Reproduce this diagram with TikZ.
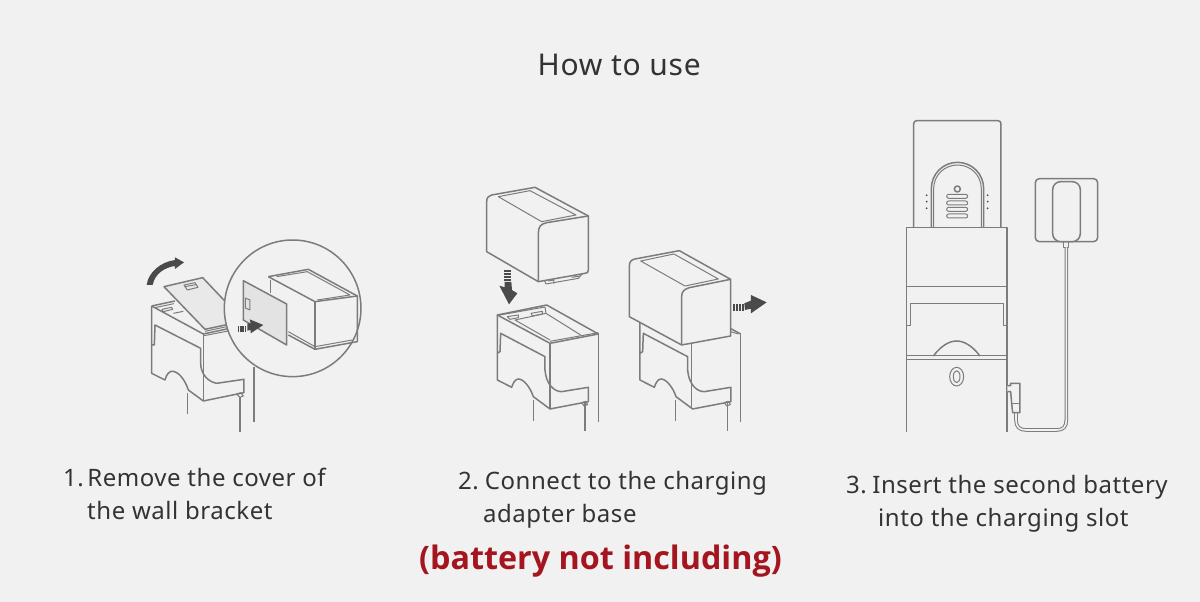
\documentclass[tikz,border=0pt]{standalone}
\usepackage{fontspec}
\setmainfont{Noto Sans}
\newfontfamily\notefont{Open Sans}[Scale=1]
\definecolor{bg}{HTML}{F0F1F0}
\definecolor{ln}{HTML}{7C7C7C}
\definecolor{dk}{HTML}{4A4A4A}
\definecolor{tx}{HTML}{333333}
\definecolor{rd}{HTML}{A5151F}
\definecolor{pl}{HTML}{E2E3E2}
\tikzset{
 lbl/.style={anchor=base west,inner sep=0pt,text=tx,font=\fontsize{24}{24}\selectfont\addfontfeatures{LetterSpace=2.2}},
 ol/.style={draw=ln,line width=1.5pt,line join=round,fill=none},
 thin ol/.style={draw=ln,line width=1pt,line join=round},
 solid bg/.style={ol,fill=bg},
 arr/.style={fill=dk,draw=none},
 cable/.style={draw=#1,line width=1pt,double=bg,double distance=1.6pt},
 cable/.default=ln
}
\newcommand{\bracketbody}{%
  (82,405) -- (82,520) -- (90,515) -- (92,460) -- (225,530) -- (225,570)
  .. controls (228,610) and (250,635) .. (275,635) -- (355,622) -- (355,665) -- (240,687) -- (190,650)
  .. controls (180,620) and (160,597) .. (145,597) .. controls (135,597) and (128,612) .. (125,622) -- (82,600) -- (82,520)}
\begin{document}
\begin{tikzpicture}[x=1pt,y=-1pt]
\path[use as bounding box,fill=bg] (0,0) rectangle (1200,602);

% ---------- step 1 ----------
\begin{scope}[shift={(120,230)},scale=0.3333]
 \draw[ol] (203,490) -- (203,552);
 \draw[ol] (360,500) -- (360,605);
 \draw[ol] (402,410) -- (402,575);
 \draw[solid bg] (95,228) -- (95,430) -- (135,450)
   .. controls (140,430) and (150,422) .. (160,424) .. controls (180,428) and (197,455) .. (205,480)
   -- (250,513) -- (372,488) -- (372,448) -- (290,460)
   .. controls (262,455) and (242,430) .. (242,400) -- (242,355) -- (105,285) -- (103,345) -- (95,345);
 \draw[ol] (250,312) -- (250,513);
 \draw[ol] (95,228) -- (250,312) -- (325,296);
 \draw[thin ol] (252,317) -- (325,303);
 \draw[ol] (95,228) -- (165,213);
 \draw[thin ol] (105,233) -- (162,221);
 \draw[thin ol] (126,238) -- (155,232) -- (158,238) -- (129,245) -- cycle;
 \draw[thin ol] (160,250) -- (190,244);
 \draw[thin ol] (350,492) -- (362,488) -- (370,498) -- (360,502) -- cycle;
 \draw[ol,fill=pl!60!bg] (132,170) -- (248,143) -- (340,240) -- (325,283) -- (255,298) -- cycle;
 \draw[thin ol] (255,304) -- (320,290);
 \draw[thin ol] (192,165) -- (225,158) -- (234,172) -- (202,180) -- cycle;
 \draw[thin ol] (194,170) -- (228,164);
 \draw[arr] (80,165) .. controls (85,125) and (125,95) .. (165,90) -- (165,82) -- (192,97) -- (165,117) -- (165,108) .. controls (135,112) and (105,130) .. (98,165) -- cycle;
 \draw[solid bg] (518,235) circle (205);
 % battery in lens
 \draw[ol] (445,140) -- (565,118) -- (712,198) -- (712,335) -- (585,358) -- (505,315);
 \draw[ol] (445,140) -- (585,215) -- (712,198);
 \draw[thin ol] (470,140) -- (562,125) -- (690,195) -- (592,210);
 \draw[ol] (452,150) -- (452,190);
 \draw[ol] (585,215) -- (585,358);
 \draw[thin ol] (585,350) -- (697,330);
 \draw[thin ol] (505,305) -- (585,350);
 % cover
 \draw[ol,fill=pl] (370,152) -- (500,222) -- (500,345) -- (370,270) -- cycle;
 \draw[thin ol] (376,204) -- (390,210) -- (390,240) -- (376,234) -- cycle;
 % arrow
 \foreach \a in {353,360,367,374}
   \fill[dk] (\a,287) rectangle (\a+5,305);
 \draw[arr] (382,280) -- (392,280) -- (389,268) -- (430,285) -- (392,310) -- (392,300) -- (382,302) -- cycle;
\end{scope}

% ---------- step 2 ----------
\begin{scope}[shift={(470,180)},scale=0.3333]
 % left column
 \draw[ol] (190,660) -- (190,722);
 \draw[ol] (345,670) -- (345,752);
 \draw[ol] (385,462) -- (385,725);
 \draw[solid bg] \bracketbody;
 \draw[ol] (240,490) -- (240,687);
 \draw[ol] (82,405) -- (230,375) -- (385,462) -- (240,490) -- cycle;
 \draw[thin ol] (240,484) -- (385,458);
 \draw[thin ol] (90,405) -- (225,381) -- (228,400) -- (135,420) -- (240,480);
 \draw[thin ol] (228,400) -- (332,465);
 \draw[thin ol] (112,410) -- (145,405) -- (145,413) -- (120,418) -- cycle;
 \draw[thin ol] (183,400) -- (217,394) -- (217,402) -- (187,408) -- cycle;
 \draw[thin ol] (335,668) -- (347,664) -- (353,674) -- (342,678) -- cycle;
 % battery A
 \draw[thin ol] (222,298) -- (228,312) -- (325,295) -- (338,280);
 \draw[thin ol] (235,303) -- (252,300) -- (252,311);
 \draw[thin ol] (305,292) -- (330,288);
 \draw[solid bg] (50,215) -- (50,65) .. controls (50,52) and (55,50) .. (65,45) -- (195,22) -- (355,108) -- (355,270) .. controls (355,278) and (352,279) .. (345,280) -- (205,305) -- cycle;
 \draw[ol] (205,305) -- (205,160) .. controls (205,140) and (212,132) .. (230,128) -- (355,108);
 \draw[thin ol] (85,50) -- (180,32) -- (318,105) -- (215,125) -- cycle;
 % arrow down
 \foreach \a in {270,279,288,297}
   \fill[dk] (102,\a) rectangle (124,\a+6);
 \draw[arr] (88,317) -- (104,322) -- (104,306) -- (124,306) -- (126,330) -- (142,340) -- (117,373) -- cycle;
 % right column
 \draw[ol] (617,660) -- (617,722);
 \draw[ol] (772,670) -- (772,752);
 \draw[ol] (812,462) -- (812,725);
 \begin{scope}[shift={(428,0)}]
  \draw[solid bg] \bracketbody;
  \draw[thin ol] (335,668) -- (347,664) -- (353,674) -- (342,678) -- cycle;
 \end{scope}
 \draw[ol] (665,490) -- (665,687);
 \draw[ol] (775,442) -- (812,462);
 \draw[thin ol] (782,455) -- (805,462);
 % battery B
 \draw[solid bg] (478,410) -- (478,260) .. controls (478,245) and (483,240) .. (495,237) -- (628,212) -- (782,298) -- (782,468) -- (635,495) -- cycle;
 \draw[ol] (635,495) -- (635,350) .. controls (635,335) and (642,328) .. (658,323) -- (782,298);
 \draw[thin ol] (512,243) -- (612,222) -- (745,297) -- (645,318) -- cycle;
 % arrow right
 \foreach \a in {790,799,808,817}
   \fill[dk] (\a,372) rectangle (\a+6,393);
 \draw[arr] (823,370) -- (843,362) -- (843,345) -- (890,367) -- (843,400) -- (843,386) -- (825,390) -- cycle;
\end{scope}

% ---------- step 3 upper ----------
\begin{scope}[shift={(890,110)},scale=0.3333]
 \draw[ol,rounded corners=3pt] (71,352) -- (71,32) -- (333,32) -- (333,352);
 \draw[ol] (124,352) -- (124,236) .. controls (124,192) and (159,157) .. (202.5,157) .. controls (246,157) and (281,192) .. (281,236) -- (281,352);
 \draw[thin ol] (131,352) -- (131,236) .. controls (131,196) and (163,165) .. (202.5,165) .. controls (242,165) and (274,196) .. (274,236) -- (274,352);
 \draw[ol] (202,237) circle (9);
 \foreach \a in {259,279,298,318}
   \draw[thin ol,rounded corners=2pt] (170,\a-6) rectangle (233,\a+6);
 \foreach \a in {256,275,295} {
   \fill[dk] (110,\a) circle (3);
   \fill[dk] (293,\a) circle (3);
 }
 \draw[ol] (50,520) -- (50,352) -- (351,352) -- (351,520);
 % adapter
 \draw[ol,rounded corners=4pt] (436,206) rectangle (623,395);
 \draw[ol,fill=bg,rounded corners=8pt] (488,215) rectangle (571,395);
 \draw[thin ol] (521,395) rectangle (537,412);
\end{scope}

% ---------- step 3 lower ----------
\begin{scope}[shift={(890,270)},scale=0.3333]
 \draw[ol] (50,0) -- (50,485);
 \draw[ol] (351,0) -- (351,485);
 \draw[ol] (50,50) -- (351,50);
 \draw[ol] (52,167) -- (62,167) -- (62,100) -- (341,100) -- (341,167) -- (351,167);
 \draw[ol] (130,258) .. controls (155,225) and (180,213) .. (200,213) .. controls (220,213) and (245,225) .. (270,258);
 \draw[ol] (50,257) -- (351,257);
 \draw[ol] (50,268) -- (351,268);
 \draw[thin ol] (200,320) ellipse (21 and 28);
 \draw[thin ol] (200,320) ellipse (10 and 18);
 \draw[cable] (529,-68) -- (529,450) .. controls (529,470) and (520,480) .. (500,480) -- (408,480) .. controls (388,480) and (378,470) .. (378,450) -- (378,428);
 \draw[ol,fill=bg] (352,347) -- (362,347) -- (362,340) -- (390,340) -- (390,428) -- (368,428) -- (365,400) -- (362,365) -- (352,365);
 \draw[thin ol] (366,400) -- (390,400);
\end{scope}

% ---------- text ----------
\node[anchor=base west,inner sep=0pt,text=tx,font=\fontsize{30}{30}\selectfont\addfontfeatures{LetterSpace=2.5}] (title) at (537.5,75) {How to use};
\node[lbl] (a1) at (63,486) {1.\hspace{-5.5pt} Remove the cover of};
\node[lbl] (a2) at (87,519) {the wall bracket};
\node[lbl] (b1) at (458,489) {2.\hspace{-3pt} Connect to the charging};
\node[lbl] (b2) at (483,522) {adapter base};
\node[lbl] (c1) at (846,493) {3.\hspace{-3.5pt} Insert the second battery};
\node[lbl] (c2) at (878,526) {into the charging slot};
\node[anchor=base west,inner sep=0pt,text=rd,font=\fontsize{32.3}{32.3}\selectfont\notefont\bfseries] (note) at (419,569) {(battery not including)};
\end{tikzpicture}
\end{document}
